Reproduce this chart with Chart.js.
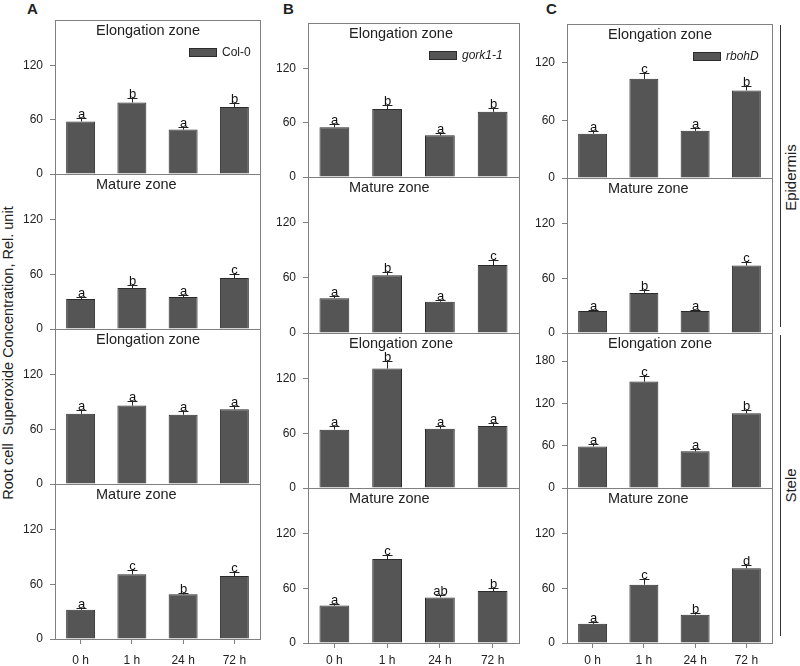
<!DOCTYPE html>
<html>
<head>
<meta charset="utf-8">
<script src="https://cdn.jsdelivr.net/npm/chart.js@4.4.1/dist/chart.umd.min.js"></script>
<style>
body { margin: 0; background: #fff; }
#fig { position: relative; width: 800px; height: 666px; overflow: hidden; font-family: "Liberation Sans", Arial, sans-serif; color: #222; }
#fig canvas { position: absolute; }
.lbl { position: absolute; white-space: nowrap; text-align: center; }
.side { position: absolute; width: 1px; background: #333; }
.letter { position: absolute; font-weight: bold; font-size: 15px; }
</style>
</head>
<body>
<div id="fig">
  <div class="letter" style="left:27px; top:0px">A</div>
  <div class="letter" style="left:283px; top:0px">B</div>
  <div class="letter" style="left:546px; top:0px">C</div>
  <div class="lbl" style="left:-192px; top:345px; width:400px; font-size:14.5px; transform:rotate(-90deg)">Root cell&nbsp; Superoxide Concentration, Rel. unit</div>
  <div class="lbl" style="left:740px; top:169px; width:100px; font-size:15px; transform:rotate(-90deg)">Epidermis</div>
  <div class="lbl" style="left:740px; top:477px; width:100px; font-size:15px; transform:rotate(-90deg)">Stele</div>
  <div class="side" style="left:780px; top:25px; height:302px"></div>
  <div class="side" style="left:780px; top:335px; height:301px"></div>
</div>
<script>
// categories
const hours = ["0 h", "1 h", "24 h", "72 h"]
const zones = ["Elongation zone", "Mature zone", "Elongation zone", "Mature zone"]
const genotypes = ["Col-0", "gork1-1", "rbohD"]

// rows: epidermis elongation, epidermis mature, stele elongation, stele mature
const col0_mean = [[58, 79, 49, 74], [33, 45, 35, 56], [77, 86, 76, 82], [32, 71, 49, 69]]
const col0_err = [[3.5, 5, 3, 4], [2, 3, 2, 4], [4, 5, 4, 3.5], [2, 4.5, 2, 5]]
const col0_sig = [["a", "b", "a", "b"], ["a", "b", "a", "c"], ["a", "a", "a", "a"], ["a", "c", "b", "c"]]
const col0_ymax = [170, 170, 170, 170]

const gork_mean = [[55, 75, 46, 72], [38, 63, 34, 74], [64, 131, 65, 68], [41, 92, 50, 57]]
const gork_err = [[3.5, 5, 2.5, 4], [2.5, 3.5, 2, 6], [3.5, 8, 3, 3.5], [2, 4, 3, 3]]
const gork_sig = [["a", "b", "a", "b"], ["a", "b", "a", "c"], ["a", "b", "a", "a"], ["a", "c", "ab", "b"]]
const gork_ymax = [170, 170, 170, 170]

const rboh_mean = [[46, 103, 49, 91], [24, 44, 24, 74], [59, 151, 52, 106], [21, 64, 31, 82]]
const rboh_err = [[2.5, 6.5, 3, 4.5], [1.5, 3, 1, 4], [3.5, 8, 3, 5], [1.5, 6.5, 2, 3.5]]
const rboh_sig = [["a", "c", "a", "b"], ["a", "b", "a", "c"], ["a", "c", "a", "b"], ["a", "c", "b", "d"]]
const rboh_ymax = [160, 170, 220, 170]

const tick_step = 60

Chart.defaults.font.family = "'Liberation Sans', Arial, sans-serif"
Chart.defaults.color = "#222"

const groups = [
    { mean: col0_mean, err: col0_err, sig: col0_sig, ymax: col0_ymax, italic: false },
    { mean: gork_mean, err: gork_err, sig: gork_sig, ymax: gork_ymax, italic: true },
    { mean: rboh_mean, err: rboh_err, sig: rboh_sig, ymax: rboh_ymax, italic: true },
]

// plot box of each column (pixels)
const columns = [
    { left: 55, right: 260, edges: [20, 174, 329, 484, 639], x_pad: 9, legend_dx: 134 },
    { left: 308, right: 519, edges: [23, 177, 333, 488, 643], x_pad: 5, legend_dx: 121 },
    { left: 567, right: 772, edges: [24, 178, 333, 488, 643], x_pad: 5, legend_dx: 126 },
]

const PAD = 20
const Y_W = 50
const X_H = 26

const panel_plugin = {
    id: "panel",
    afterDatasetsDraw(chart, args, opts) {
        const ctx = chart.ctx
        const area = chart.chartArea
        const y = chart.scales.y
        const meta = chart.getDatasetMeta(0)
        ctx.save()

        // error bars + letters
        ctx.strokeStyle = "#222"
        ctx.lineWidth = 1
        ctx.fillStyle = "#111"
        ctx.font = "13px 'Liberation Sans', Arial"
        ctx.textAlign = "center"
        ctx.textBaseline = "alphabetic"
        meta.data.forEach((bar, i) => {
            const x = Math.round(bar.x) + 0.5
            const top = Math.round(y.getPixelForValue(opts.mean[i] + opts.err[i])) + 0.5
            ctx.beginPath()
            ctx.moveTo(x, bar.y)
            ctx.lineTo(x, top)
            ctx.moveTo(x - 5, top)
            ctx.lineTo(x + 5, top)
            ctx.stroke()
            ctx.fillText(opts.sig[i], x, top - 1)
        })

        // frame
        ctx.strokeStyle = "#808080"
        ctx.strokeRect(area.left + 0.5, area.top + 0.5, area.right - area.left, area.bottom - area.top)

        // zone title
        ctx.fillStyle = "#222"
        ctx.font = "14.5px 'Liberation Sans', Arial"
        ctx.textAlign = "left"
        ctx.textBaseline = "middle"
        ctx.fillText(opts.title, area.left + 41, area.top + 11)

        // legend only in top row
        if (opts.legend) {
            const bx = area.left + opts.legend_dx
            const by = area.top + 28
            ctx.fillStyle = "#555"
            ctx.fillRect(bx, by, 28, 9)
            ctx.strokeStyle = "#2b2b2b"
            ctx.strokeRect(bx + 0.5, by + 0.5, 27, 8)
            ctx.fillStyle = "#222"
            ctx.font = (opts.italic ? "italic " : "") + "12px 'Liberation Sans', Arial"
            ctx.fillText(opts.legend, bx + 33, by + 5)
        }
        ctx.restore()
    }
}

function criar_painel(c, r) {
    const col = columns[c]
    const g = groups[c]
    const bottom_row = r === 3
    const top = col.edges[r]
    const h = col.edges[r + 1] - top
    const w = col.right - col.left

    const canvas = document.createElement("canvas")
    canvas.width = Y_W + w + PAD
    canvas.height = PAD + h + PAD + (bottom_row ? X_H : 0)
    canvas.style.left = (col.left - Y_W) + "px"
    canvas.style.top = (top - PAD) + "px"
    document.getElementById("fig").appendChild(canvas)

    const dados = {
        labels: hours,
        datasets: [{
            label: genotypes[c],
            data: g.mean[r],
            backgroundColor: "#555555",
            borderColor: "#2b2b2b",
            borderWidth: 1,
            barPercentage: 0.565,
            categoryPercentage: 1,
        }]
    }

    new Chart(canvas, {
        type: "bar",
        data: dados,
        options: {
            responsive: false,
            animation: false,
            devicePixelRatio: 1,
            layout: { padding: { top: PAD, bottom: PAD, left: 0, right: PAD } },
            plugins: {
                legend: { display: false },
                tooltip: { enabled: false },
                panel: {
                    mean: g.mean[r],
                    err: g.err[r],
                    sig: g.sig[r],
                    title: zones[r],
                    legend: r === 0 ? genotypes[c] : null,
                    legend_dx: col.legend_dx,
                    italic: g.italic,
                }
            },
            scales: {
                x: {
                    display: bottom_row,
                    grid: { offset: false, drawOnChartArea: false, tickLength: 5, color: "#808080" },
                    border: { display: false },
                    ticks: { padding: col.x_pad, font: { size: 12 }, maxRotation: 0 },
                    afterFit(s) { s.height = bottom_row ? X_H : 0 },
                },
                y: {
                    min: 0,
                    max: g.ymax[r],
                    ticks: { stepSize: tick_step, padding: 7, font: { size: 12 } },
                    afterBuildTicks(s) { s.ticks = s.ticks.filter(t => t.value % tick_step === 0) },
                    grid: { drawOnChartArea: false, tickLength: 5, color: "#808080" },
                    border: { display: false },
                    afterFit(s) { s.width = Y_W },
                }
            }
        },
        plugins: [panel_plugin]
    })
}

for (let c = 0; c < 3; c++) {
    for (let r = 0; r < 4; r++) {
        criar_painel(c, r)
    }
}
</script>
</body>
</html>
